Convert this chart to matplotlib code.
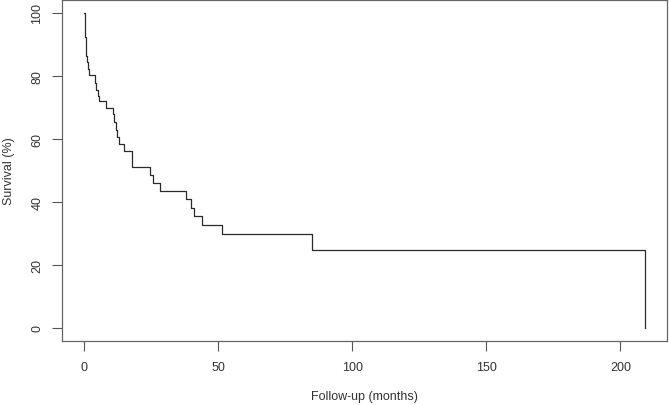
import matplotlib
matplotlib.use('Agg')
import matplotlib.pyplot as plt

# Kaplan-Meier step points
months = [0, 0.4, 0.6, 1.0, 1.4, 1.9, 4.3, 4.6, 5.1, 5.8, 8.3, 11.0, 11.2, 11.8,
          12.5, 13.2, 15.0, 17.8, 24.6, 25.9, 28.3, 38.2, 40.0, 40.9, 44.2, 51.6,
          84.9, 209]
survival = [100, 92.3, 86.4, 84.3, 82.2, 80.3, 77.8, 75.7, 73.7, 71.9, 69.7, 68.0,
            65.3, 62.7, 60.5, 58.4, 56.3, 51.0, 48.7, 46.0, 43.6, 41.0, 38.1, 35.5,
            32.7, 29.7, 24.8, 0]
x_ticks = [0, 50, 100, 150, 200]
y_ticks = [0, 20, 40, 60, 80, 100]

plt.rcParams['font.family'] = ['Liberation Sans', 'DejaVu Sans']
txt = '#333333'

fig = plt.figure(figsize=(6.69, 4.06), dpi=100)
ax = fig.add_axes([61.5/669, 1 - 341.5/406, (667 - 61.5)/669, (341.5 - 1.4)/406])

ax.step(months, survival, where='post', color='#2a2a2a', lw=0.9)

ax.set_xlim(-8.36, 217.36)
ax.set_ylim(-4, 104)
ax.set_xticks(x_ticks)
ax.set_yticks(y_ticks)
ax.set_yticklabels([str(v) for v in y_ticks], rotation=90, va='center')
ax.tick_params(direction='out', length=7, width=0.8, color='#555555',
               labelsize=9, labelcolor=txt)
ax.tick_params(axis='x', pad=8)
ax.tick_params(axis='y', pad=6)
for s in ax.spines.values():
    s.set_color('#666666')
    s.set_linewidth(0.9)

ax.set_xlabel('Follow-up (months)', fontsize=9, color=txt, va='center')
ax.set_ylabel('Survival (%)', fontsize=9, color=txt, va='center')
ax.xaxis.set_label_coords(0.5, -(397 - 341.5)/340)
ax.yaxis.set_label_coords(-(61.5 - 9)/605.5, 0.5)

fig.savefig('out.png', dpi=100)
